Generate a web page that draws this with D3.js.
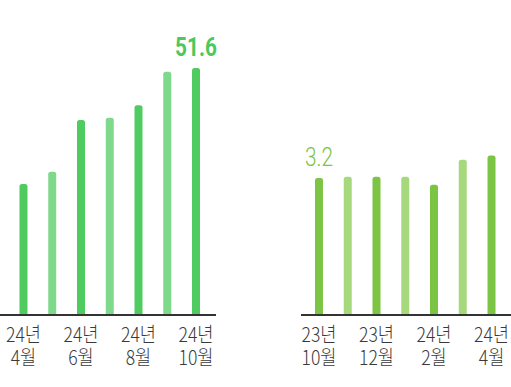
<!DOCTYPE html>
<html lang="ko">
  <head>
    <meta charset="utf-8">
    <title>월별 막대 차트</title>
    <style>
      body {margin: 0; background: #fff;}
      svg {display: block;}
      .axis-line {stroke: #333; stroke-width: 1.3; shape-rendering: crispEdges;}
      .tick-label {font-family: "Noto Sans CJK KR", sans-serif; font-size: 20px; font-weight: 300; fill: #3a3a3a; text-anchor: middle;}
    </style>
    <script src="https://d3js.org/d3.v7.min.js"></script>
  </head>
  <body>
    <script type="text/javascript">
      // left chart: 24년 4월 ~ 10월
      var leftMonths = ["24년 4월", "24년 5월", "24년 6월", "24년 7월", "24년 8월", "24년 9월", "24년 10월"];
      var leftValues = [27.3, 29.9, 40.7, 41.2, 43.8, 50.8, 51.6];
      var leftTicks = [["24년", "4월"], ["24년", "6월"], ["24년", "8월"], ["24년", "10월"]];

      // right chart: 23년 10월 ~ 24년 4월
      var rightMonths = ["23년 10월", "23년 11월", "23년 12월", "24년 1월", "24년 2월", "24년 3월", "24년 4월"];
      var rightValues = [3.2, 3.23, 3.23, 3.23, 3.04, 3.63, 3.73];
      var rightTicks = [["23년", "10월"], ["23년", "12월"], ["24년", "2월"], ["24년", "4월"]];

      var width = 511, height = 387;
      var baseline = 314.5;
      var barW = 8;

      var svg = d3.select("body").append("svg")
        .attr("width", width)
        .attr("height", height);

      // bar with rounded top
      function barPath(x, y, w, h, r) {
        return "M" + x + "," + (y + h) +
          "V" + (y + r) +
          "Q" + x + "," + y + " " + (x + r) + "," + y +
          "H" + (x + w - r) +
          "Q" + (x + w) + "," + y + " " + (x + w) + "," + (y + r) +
          "V" + (y + h) + "Z";
      }

      function drawChart(opt) {
        var x = d3.scaleBand()
          .domain(opt.months)
          .range(opt.range);
        var y = d3.scaleLinear()
          .domain([0, opt.max])
          .range([baseline, opt.top]);

        var g = svg.append("g");

        g.selectAll("path.bar")
          .data(opt.values)
          .enter()
          .append("path")
          .attr("class", "bar")
          .attr("fill", function(d, i) { return i % 2 == 0 ? opt.dark : opt.light; })
          .attr("d", function(d, i) {
            var cx = x(opt.months[i]) + x.bandwidth() / 2;
            return barPath(cx - barW / 2, y(d), barW, baseline - y(d), 2.5);
          });

        g.append("line")
          .attr("class", "axis-line")
          .attr("x1", opt.axis[0])
          .attr("x2", opt.axis[1])
          .attr("y1", baseline + 0.5)
          .attr("y2", baseline + 0.5);

        // two-line labels under every other bar
        var lab = g.selectAll("text.tick-label")
          .data(opt.ticks)
          .enter()
          .append("text")
          .attr("class", "tick-label")
          .attr("transform", function(d, i) {
            var cx = x(opt.months[i * 2]) + x.bandwidth() / 2;
            return "translate(" + cx + ",342) scale(0.88,1)";
          });
        lab.append("tspan")
          .attr("x", 0)
          .attr("y", 0)
          .text(function(d) { return d[0]; });
        lab.append("tspan")
          .attr("x", 0)
          .attr("y", 23)
          .text(function(d) { return d[1]; });

        // value label
        var vi = opt.labelIndex;
        var vx = x(opt.months[vi]) + x.bandwidth() / 2;
        g.append("text")
          .attr("transform", "translate(" + vx + "," + opt.labelY + ") scale(0.8,1)")
          .attr("text-anchor", "middle")
          .attr("font-family", "Roboto, sans-serif")
          .attr("font-size", opt.labelSize)
          .attr("font-weight", opt.labelWeight)
          .attr("fill", opt.labelColor)
          .text(opt.values[vi]);
      }

      drawChart({
        months: leftMonths, values: leftValues, ticks: leftTicks,
        range: [9.1, 210.4], axis: [0, 216], max: 51.6, top: 68,
        dark: "#4fcb5f", light: "#7fd98b",
        labelIndex: 6, labelY: 56, labelSize: 26, labelWeight: "bold", labelColor: "#4cc85c"
      });

      drawChart({
        months: rightMonths, values: rightValues, ticks: rightTicks,
        range: [304.6, 505.9], axis: [301, 511], max: 3.2, top: 178,
        dark: "#7cc444", light: "#a6d87c",
        labelIndex: 0, labelY: 165.5, labelSize: 26, labelWeight: 300, labelColor: "#7cc444"
      });
    </script>
  </body>
</html>
